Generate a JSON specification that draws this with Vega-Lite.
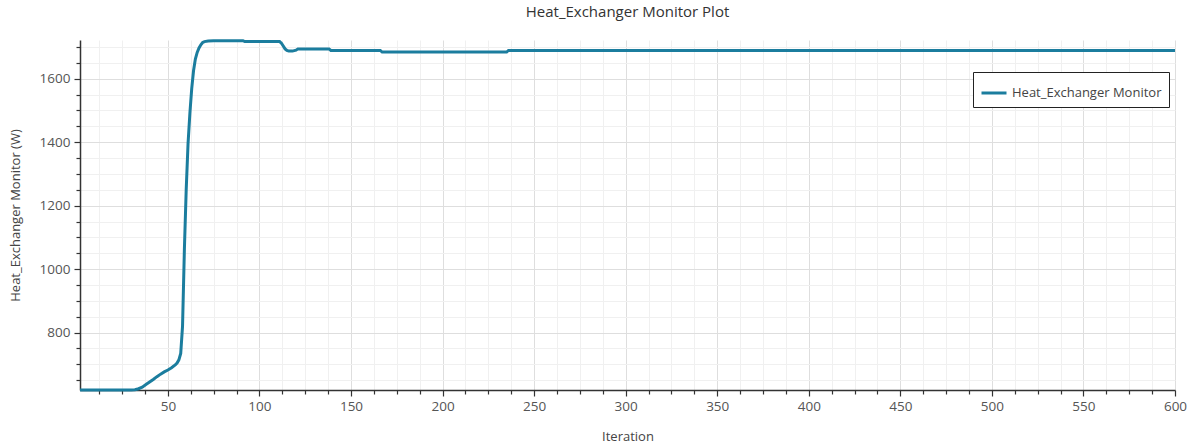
{
  "$schema": "https://vega.github.io/schema/vega-lite/v6.json",
  "width": 1095,
  "height": 350,
  "autosize": {"type": "none"},
  "padding": {"left": 80, "top": 40, "right": 24, "bottom": 55},
  "background": "white",
  "title": {
    "text": "Heat_Exchanger Monitor Plot",
    "font": "Open Sans",
    "fontSize": 15,
    "fontWeight": "normal",
    "color": "#333333",
    "offset": 15,
    "anchor": "middle"
  },
  "config": {
    "view": {"stroke": null},
    "font": "Open Sans"
  },
  "data": {
    "values": [
      {"iteration": 2, "value": 619},
      {"iteration": 10, "value": 619},
      {"iteration": 20, "value": 619},
      {"iteration": 30, "value": 619},
      {"iteration": 32, "value": 620},
      {"iteration": 34, "value": 623},
      {"iteration": 36, "value": 628},
      {"iteration": 38, "value": 636},
      {"iteration": 40, "value": 644},
      {"iteration": 42, "value": 652},
      {"iteration": 44, "value": 661},
      {"iteration": 46, "value": 669},
      {"iteration": 48, "value": 676},
      {"iteration": 50, "value": 682},
      {"iteration": 52, "value": 689},
      {"iteration": 54, "value": 698},
      {"iteration": 55, "value": 704},
      {"iteration": 56, "value": 714},
      {"iteration": 57, "value": 734},
      {"iteration": 58, "value": 820},
      {"iteration": 59, "value": 1060},
      {"iteration": 60, "value": 1250},
      {"iteration": 61, "value": 1395},
      {"iteration": 62, "value": 1490},
      {"iteration": 63, "value": 1568},
      {"iteration": 64, "value": 1625},
      {"iteration": 65, "value": 1662},
      {"iteration": 66, "value": 1683},
      {"iteration": 67, "value": 1697},
      {"iteration": 68, "value": 1707},
      {"iteration": 69, "value": 1714},
      {"iteration": 70, "value": 1717},
      {"iteration": 72, "value": 1719},
      {"iteration": 75, "value": 1720},
      {"iteration": 91, "value": 1720},
      {"iteration": 92, "value": 1717},
      {"iteration": 111, "value": 1717},
      {"iteration": 112, "value": 1712},
      {"iteration": 113, "value": 1703},
      {"iteration": 114, "value": 1694},
      {"iteration": 115, "value": 1689},
      {"iteration": 116, "value": 1687},
      {"iteration": 118, "value": 1687},
      {"iteration": 120, "value": 1690},
      {"iteration": 121, "value": 1694},
      {"iteration": 138, "value": 1694},
      {"iteration": 139, "value": 1689},
      {"iteration": 166, "value": 1689},
      {"iteration": 167, "value": 1684},
      {"iteration": 235, "value": 1684},
      {"iteration": 236, "value": 1689},
      {"iteration": 600, "value": 1689}
    ]
  },
  "transform": [{"calculate": "'Heat_Exchanger Monitor'", "as": "series"}],
  "mark": {"type": "line", "strokeWidth": 3, "interpolate": "linear"},
  "encoding": {
    "x": {
      "field": "iteration",
      "type": "quantitative",
      "scale": {"domain": [2, 600], "nice": false, "zero": false},
      "axis": {
        "title": "Iteration",
        "titleFont": "Open Sans",
        "titleFontSize": 13,
        "titleFontWeight": "normal",
        "titleColor": "#444444",
        "titlePadding": 18,
        "values": [12.5, 25, 37.5, 50, 62.5, 75, 87.5, 100, 112.5, 125, 137.5, 150, 162.5, 175, 187.5, 200, 212.5, 225, 237.5, 250, 262.5, 275, 287.5, 300, 312.5, 325, 337.5, 350, 362.5, 375, 387.5, 400, 412.5, 425, 437.5, 450, 462.5, 475, 487.5, 500, 512.5, 525, 537.5, 550, 562.5, 575, 587.5, 600],
        "labelExpr": "datum.value % 50 === 0 ? datum.label : ''",
        "labelOverlap": false,
        "labelFlush": false,
        "labelFont": "Open Sans",
        "labelFontSize": 13.5,
        "labelColor": "#555555",
        "labelPadding": 3,
        "domainColor": "#333333",
        "domainWidth": 1.5,
        "tickColor": "#333333",
        "tickWidth": 1.2,
        "tickSize": {"condition": {"test": "datum.value % 50 === 0", "value": 6}, "value": 4},
        "grid": true,
        "gridColor": {"condition": {"test": "datum.value % 50 === 0", "value": "#dedede"}, "value": "#f0f0f0"},
        "gridWidth": 1
      }
    },
    "y": {
      "field": "value",
      "type": "quantitative",
      "scale": {"domain": [619, 1722], "nice": false, "zero": false},
      "axis": {
        "title": "Heat_Exchanger Monitor (W)",
        "titleFont": "Open Sans",
        "titleFontSize": 13,
        "titleFontWeight": "normal",
        "titleColor": "#444444",
        "titlePadding": 17,
        "values": [650, 700, 750, 800, 850, 900, 950, 1000, 1050, 1100, 1150, 1200, 1250, 1300, 1350, 1400, 1450, 1500, 1550, 1600, 1650, 1700],
        "labelExpr": "datum.value % 200 === 0 ? datum.label : ''",
        "format": "d",
        "labelOverlap": false,
        "labelFont": "Open Sans",
        "labelFontSize": 13.5,
        "labelColor": "#555555",
        "labelPadding": 4,
        "domainColor": "#333333",
        "domainWidth": 1.5,
        "tickColor": "#333333",
        "tickWidth": 1.2,
        "tickSize": {"condition": {"test": "datum.value % 200 === 0", "value": 6}, "value": 4},
        "grid": true,
        "gridColor": {"condition": {"test": "datum.value % 200 === 0", "value": "#dedede"}, "value": "#f0f0f0"},
        "gridWidth": 1
      }
    },
    "color": {
      "field": "series",
      "type": "nominal",
      "scale": {"range": ["#1b7d9e"]},
      "legend": {
        "title": null,
        "orient": "none",
        "legendX": 893,
        "legendY": 32,
        "symbolType": "stroke",
        "symbolStrokeWidth": 3,
        "symbolSize": 625,
        "labelFont": "Open Sans",
        "labelFontSize": 13,
        "labelColor": "#444444",
        "labelLimit": 300,
        "padding": 7,
        "strokeColor": "#222222",
        "fillColor": "white",
        "cornerRadius": 0
      }
    }
  }
}
